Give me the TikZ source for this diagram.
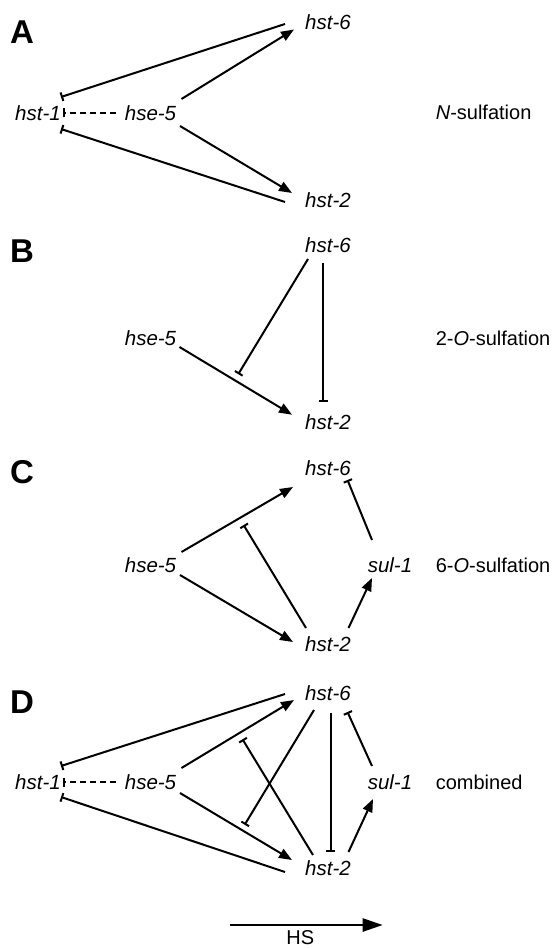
\documentclass[tikz,border=0pt]{standalone}
\usepackage{fontspec}
\setmainfont{Liberation Sans}
\usetikzlibrary{arrows.meta,calc}
\begin{document}
\begin{tikzpicture}[x=1pt,y=-1pt]

	\tikzstyle{gen}=[font=\fontsize{20.5}{24}\selectfont\itshape, inner sep=0pt]
	\tikzstyle{lab}=[font=\fontsize{20}{24}\selectfont, inner sep=0pt, anchor=west]
	\tikzstyle{panel}=[font=\fontsize{33}{38}\selectfont\bfseries, inner sep=0pt, anchor=west]
	\tikzstyle{act}=[-{Triangle[length=13pt, width=10pt]}, line width=2pt]
	\tikzstyle{inh}=[-{Bar[width=9pt]}, line width=2pt]
	\tikzstyle{weak}=[-{Bar[width=9pt, line width=2.2pt]}, line width=1.4pt, dash pattern=on 6pt off 4pt]

	\useasboundingbox (0,0) rectangle (553,949);

	\coordinate (pA) at (10, 32); % PANEL A
	\coordinate (h1A) at (38, 113); % PANEL A
	\coordinate (h5A) at (150.5, 113); % PANEL A
	\coordinate (h6A) at (328, 22.5); % PANEL A
	\coordinate (h2A) at (328, 200); % PANEL A
	\coordinate (sA) at (435.6, 112); % PANEL A
	\coordinate (pB) at (10, 251); % PANEL B
	\coordinate (h5B) at (150.5, 338); % PANEL B
	\coordinate (h6B) at (328, 245); % PANEL B
	\coordinate (h2B) at (328, 421.7); % PANEL B
	\coordinate (sB) at (435.6, 338); % PANEL B
	\coordinate (pC) at (10, 472); % PANEL C
	\coordinate (h5C) at (150.5, 565); % PANEL C
	\coordinate (h6C) at (328, 468); % PANEL C
	\coordinate (h2C) at (328, 644); % PANEL C
	\coordinate (sulC) at (390, 565); % PANEL C
	\coordinate (sC) at (435.6, 565); % PANEL C
	\coordinate (pD) at (10, 702); % PANEL D
	\coordinate (h1D) at (38, 782); % PANEL D
	\coordinate (h5D) at (150.5, 782); % PANEL D
	\coordinate (h6D) at (328, 693); % PANEL D
	\coordinate (h2D) at (328, 868); % PANEL D
	\coordinate (sulD) at (390, 782); % PANEL D
	\coordinate (sD) at (435.6, 782); % PANEL D
	\coordinate (hs0) at (230, 925); % HS
	\coordinate (hs1) at (382.7, 925); % HS

	\node[panel] (pA) at (pA) {A};
	\node[gen] (h1A) at (h1A) {hst-1};
	\node[gen] (h5A) at (h5A) {hse-5};
	\node[gen] (h6A) at (h6A) {hst-6};
	\node[gen] (h2A) at (h2A) {hst-2};
	\node[lab] (sA) at (sA) {\textit{N}-sulfation};

	\node[panel] (pB) at (pB) {B};
	\node[gen] (h5B) at (h5B) {hse-5};
	\node[gen] (h6B) at (h6B) {hst-6};
	\node[gen] (h2B) at (h2B) {hst-2};
	\node[lab] (sB) at (sB) {2-\textit{O}-sulfation};

	\node[panel] (pC) at (pC) {C};
	\node[gen] (h5C) at (h5C) {hse-5};
	\node[gen] (h6C) at (h6C) {hst-6};
	\node[gen] (h2C) at (h2C) {hst-2};
	\node[gen] (sulC) at (sulC) {sul-1};
	\node[lab] (sC) at (sC) {6-\textit{O}-sulfation};

	\node[panel] (pD) at (pD) {D};
	\node[gen] (h1D) at (h1D) {hst-1};
	\node[gen] (h5D) at (h5D) {hse-5};
	\node[gen] (h6D) at (h6D) {hst-6};
	\node[gen] (h2D) at (h2D) {hst-2};
	\node[gen] (sulD) at (sulD) {sul-1};
	\node[lab] (sD) at (sD) {combined};

	%%%%%%%% N-SULFATION %%%%%%%%
	\draw[inh] ($(h6A)+(-43,1.5)$) -- ($(h1A)+(23,-16)$);
	\draw[act] ($(h5A)+(31,-14)$) -- ($(h6A)+(-34,7)$);
	\draw[weak] ($(h5A)+(-35,0)$) -- ($(h1A)+(25,0)$);
	\draw[act] ($(h5A)+(29.5,13)$) -- ($(h2A)+(-36,-7)$);
	\draw[inh] ($(h2A)+(-43,2)$) -- ($(h1A)+(23,16)$);

	%%%%%%%% 2-O-SULFATION %%%%%%%%
	\draw[act] ($(h5B)+(29,9)$) -- coordinate[pos=0.49] (m52B) ($(h2B)+(-36,-7)$);
	\draw[inh, shorten >=7pt] ($(h6B)+(-20,14)$) -- (m52B);
	\draw[inh] ($(h6B)+(-5,18)$) -- ($(h2B)+(-5,-20)$);

	%%%%%%%% 6-O-SULFATION %%%%%%%%
	\draw[act] ($(h5C)+(31,-13)$) -- coordinate[pos=0.52] (m56C) ($(h6C)+(-35,19)$);
	\draw[act] ($(h5C)+(29.5,10)$) -- ($(h2C)+(-35,-2)$);
	\draw[inh, shorten >=8pt] ($(h2C)+(-22,-16)$) -- (m56C);
	\draw[act] ($(h2C)+(20.5,-16)$) -- ($(sulC)+(-18,13)$);
	\draw[inh] ($(sulC)+(-18,-25)$) -- ($(h6C)+(19.5,12)$);

	%%%%%%%% COMBINED %%%%%%%%
	\draw[inh] ($(h6D)+(-43,1)$) -- ($(h1D)+(23,-16)$);
	\draw[act] ($(h5D)+(31,-14)$) -- coordinate[pos=0.51] (m56D) ($(h6D)+(-34,7)$);
	\draw[weak] ($(h5D)+(-35,0)$) -- ($(h1D)+(25,0)$);
	\draw[act] ($(h5D)+(29.5,11)$) -- coordinate[pos=0.55] (m52D) ($(h2D)+(-36,-8)$);
	\draw[inh] ($(h2D)+(-43,4)$) -- ($(h1D)+(23,15)$);
	\draw[inh, shorten >=6pt] ($(h6D)+(-14,17)$) -- (m52D);
	\draw[inh, shorten >=7pt] ($(h2D)+(-15,-13)$) -- (m56D);
	\draw[inh] ($(h6D)+(2.5,20)$) -- ($(h2D)+(2.5,-16)$);
	\draw[act] ($(h2D)+(20.5,-16)$) -- ($(sulD)+(-17,17)$);
	\draw[inh] ($(sulD)+(-18,-16)$) -- ($(h6D)+(19.5,19)$);

	\draw[line width=2.5pt, -{Triangle[length=20pt, width=13pt]}] (hs0) -- node[lab, pos=0.46, anchor=north, yshift=-4pt] (hs) {HS} (hs1);
\end{tikzpicture}
\end{document}
